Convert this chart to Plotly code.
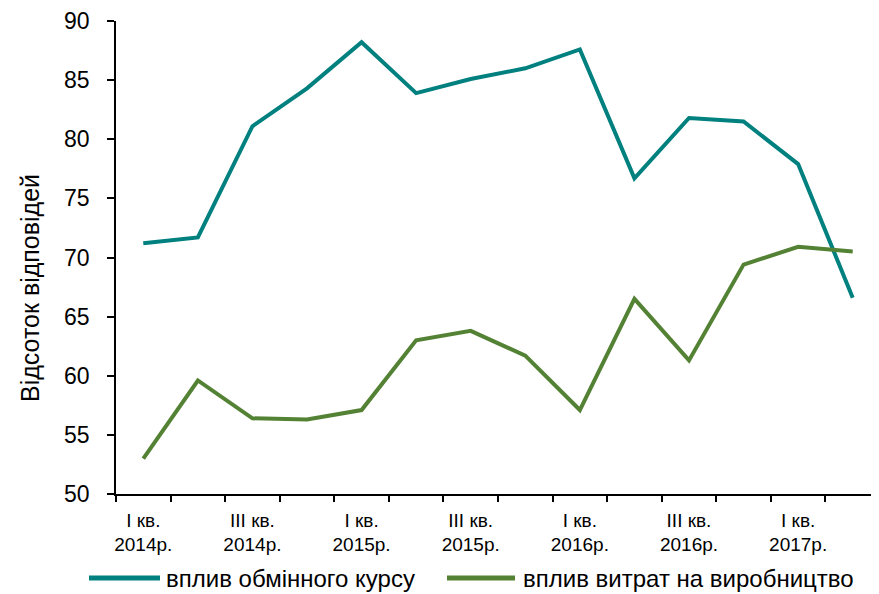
import plotly.graph_objects as go

quarters = ["I кв.<br>2014р.", "II кв.<br>2014р.", "III кв.<br>2014р.", "IV кв.<br>2014р.",
            "I кв.<br>2015р.", "II кв.<br>2015р.", "III кв.<br>2015р.", "IV кв.<br>2015р.",
            "I кв.<br>2016р.", "II кв.<br>2016р.", "III кв.<br>2016р.", "IV кв.<br>2016р.",
            "I кв.<br>2017р.", "II кв.<br>2017р."]
exchange_rate = [71.2, 71.7, 81.1, 84.3, 88.2, 83.9, 85.1, 86.0, 87.6, 76.7, 81.8, 81.5, 77.9, 66.6]
production_costs = [53.0, 59.6, 56.4, 56.3, 57.1, 63.0, 63.8, 61.7, 57.1, 66.5, 61.3, 69.4, 70.9, 70.5]
y_ticks = [50, 55, 60, 65, 70, 75, 80, 85, 90]
series_names = ["вплив обмінного курсу", "вплив витрат на виробництво"]
y_title = "Відсоток відповідей"
colors = ["#00807E", "#548235"]

x = list(range(len(quarters)))
font = "Liberation Sans, Arial, sans-serif"

# plot area in screen pixels (page has an 8px body offset)
PX0, PX1, PY0, PY1 = 116, 880, 21, 494
OFF = 8


def px(sx):
    return (sx - PX0) / (PX1 - PX0)


def py(sy):
    return (PY1 - sy) / (PY1 - PY0)


fig = go.Figure()
fig.add_trace(go.Scatter(x=x, y=exchange_rate, mode="lines", name=series_names[0],
                         line=dict(color=colors[0], width=4), showlegend=False))
fig.add_trace(go.Scatter(x=x, y=production_costs, mode="lines", name=series_names[1],
                         line=dict(color=colors[1], width=4), showlegend=False))

# manual legend at the bottom (line samples + labels)
legend_items = [(89, 160, 164), (447, 515, 521)]
LY = 578
for (x0, x1, tx), name, col in zip(legend_items, series_names, colors):
    fig.add_shape(type="line", xref="paper", yref="paper",
                  x0=px(x0), x1=px(x1), y0=py(LY), y1=py(LY),
                  line=dict(color=col, width=5))
    fig.add_annotation(text=name, xref="paper", yref="paper",
                       x=px(tx), y=py(LY), xanchor="left", yanchor="middle", showarrow=False,
                       font=dict(size=24, family=font, color="black"))

# y-axis title
fig.add_annotation(text=y_title, xref="paper", yref="paper", x=px(30), y=py(288),
                   xanchor="center", yanchor="middle", textangle=-90, showarrow=False,
                   font=dict(size=25, family=font, color="black"))

W, H = 879, 594
l = PX0 - OFF
t = PY0 - OFF
plot_w = PX1 - PX0
plot_h = PY1 - PY0
fig.update_layout(
    width=W, height=H,
    margin=dict(l=l, r=W - l - plot_w, t=t, b=H - t - plot_h),
    paper_bgcolor="white", plot_bgcolor="white",
    font=dict(family=font, color="black"),
    showlegend=False,
    xaxis=dict(
        range=[-0.5, len(quarters) - 0.5], automargin=False,
        tickmode="array", tickvals=x[::2], ticktext=quarters[::2],
        ticks="", showgrid=False, zeroline=False,
        showline=True, linecolor="black", linewidth=1.5,
        tickfont=dict(size=19, family=font),
        ticklabelstandoff=8, ticklabeloverflow="allow",
        minor=dict(tickmode="linear", tick0=-0.5, dtick=1, ticks="outside", ticklen=6,
                   tickcolor="black", tickwidth=1.5, showgrid=False),
    ),
    yaxis=dict(
        range=[50, 90], tickmode="array", tickvals=y_ticks, automargin=False,
        ticks="outside", ticklen=7, tickcolor="black", tickwidth=1.5,
        showgrid=False, zeroline=False,
        showline=True, linecolor="black", linewidth=1.5,
        tickfont=dict(size=23, family=font),
        ticklabelstandoff=13, ticklabeloverflow="allow",
    ),
)

fig.write_html("out.html")
